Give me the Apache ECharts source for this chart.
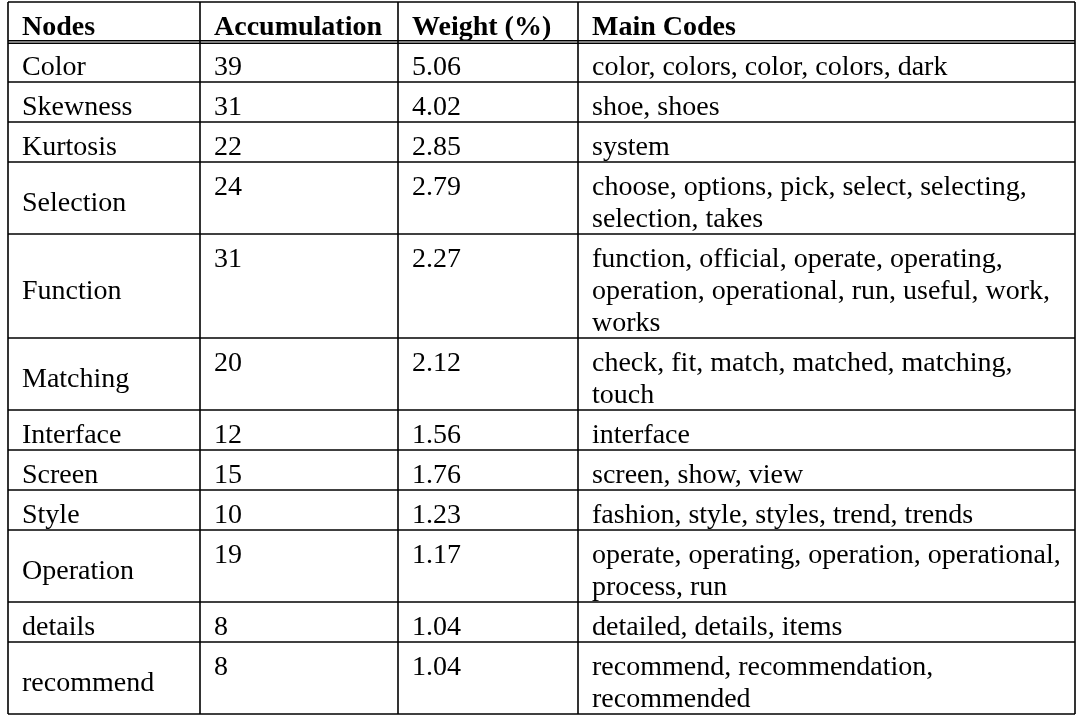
<!DOCTYPE html>
<html>
<head>
<meta charset="utf-8">
<script src="https://cdn.jsdelivr.net/npm/echarts@6/dist/echarts.min.js"></script>
<style>
html,body{margin:0;padding:0;background:#fff;}
#chart{width:1087px;height:722px;}
</style>
</head>
<body>
<div id="chart"></div>
<script>
// ---- data ----
const headers = ['Nodes', 'Accumulation', 'Weight (%)', 'Main Codes'];
const nodes = ['Color', 'Skewness', 'Kurtosis', 'Selection', 'Function', 'Matching',
  'Interface', 'Screen', 'Style', 'Operation', 'details', 'recommend'];
const accumulation = [39, 31, 22, 24, 31, 20, 12, 15, 10, 19, 8, 8];
const weights = [5.06, 4.02, 2.85, 2.79, 2.27, 2.12, 1.56, 1.76, 1.23, 1.17, 1.04, 1.04];
const mainCodes = [
  'color, colors, color, colors, dark',
  'shoe, shoes',
  'system',
  'choose, options, pick, select, selecting,\nselection, takes',
  'function, official, operate, operating,\noperation, operational, run, useful, work,\nworks',
  'check, fit, match, matched, matching,\ntouch',
  'interface',
  'screen, show, view',
  'fashion, style, styles, trend, trends',
  'operate, operating, operation, operational,\nprocess, run',
  'detailed, details, items',
  'recommend, recommendation,\nrecommended'
];

// ---- layout (not data) ----
const colEdges = [0, 192, 390, 570, 1067];   // x-axis units
const pad = 14, linePitch = 32, rowPad = 8, textOff = 26, firstColOff = 6;
const FONT = '"Liberation Serif", "Times New Roman", serif';

// build rows: header + body
const rows = [{cells: headers.map(h => [h]), bold: true}];
nodes.forEach((n, i) => {
  rows.push({cells: [[n], [String(accumulation[i])], [weights[i].toFixed(2)], mainCodes[i].split('\n')], bold: false});
});
let acc = 0;
const rowData = rows.map((r, i) => {
  const n = Math.max(...r.cells.map(c => c.length));
  const h = rowPad + linePitch * n;
  const d = [i, acc, acc + h];
  acc += h;
  return d;
});
const total = acc;

const chart = echarts.init(document.getElementById('chart'));
chart.setOption({
  animation: false,
  grid: {left: 8, right: 12, top: 2, height: total},
  xAxis: {type: 'value', min: 0, max: colEdges[colEdges.length - 1], show: false},
  yAxis: {type: 'value', min: 0, max: total, inverse: true, show: false},
  series: [{
    type: 'custom',
    clip: false,
    data: rowData,
    renderItem: function (params, api) {
      const idx = api.value(0), y0 = api.value(1), y1 = api.value(2);
      const row = rows[idx];
      const children = [];
      const ls = {stroke: '#000', lineWidth: 1.6};
      const L = api.coord([colEdges[0], y0])[0], R = api.coord([colEdges[colEdges.length - 1], y0])[0];
      const top = api.coord([0, y0])[1], bot = api.coord([0, y1])[1];
      if (idx === 0) {
        children.push({type: 'line', shape: {x1: L, y1: top, x2: R, y2: top}, style: ls});
        children.push({type: 'line', shape: {x1: L, y1: bot - 1.3, x2: R, y2: bot - 1.3}, style: ls});
        children.push({type: 'line', shape: {x1: L, y1: bot + 1.3, x2: R, y2: bot + 1.3}, style: ls});
      } else {
        children.push({type: 'line', shape: {x1: L, y1: bot, x2: R, y2: bot}, style: ls});
      }
      colEdges.forEach(ce => {
        const x = api.coord([ce, y0])[0];
        children.push({type: 'line', shape: {x1: x, y1: top, x2: x, y2: bot}, style: ls});
      });
      row.cells.forEach((lines, c) => {
        const x = api.coord([colEdges[c] + pad, y0])[0];
        lines.forEach((t, k) => {
          let yv;
          if (c === 0) yv = (y0 + y1) / 2 + firstColOff;
          else yv = y0 + textOff + linePitch * k;
          const y = api.coord([0, yv])[1];
          children.push({
            type: 'text',
            style: {
              x: x, y: y, text: t, fill: '#000',
              font: (row.bold ? 'bold ' : '') + '28px ' + FONT,
              align: 'left', verticalAlign: 'middle'
            }
          });
        });
      });
      return {type: 'group', children: children};
    }
  }]
});
</script>
</body>
</html>
